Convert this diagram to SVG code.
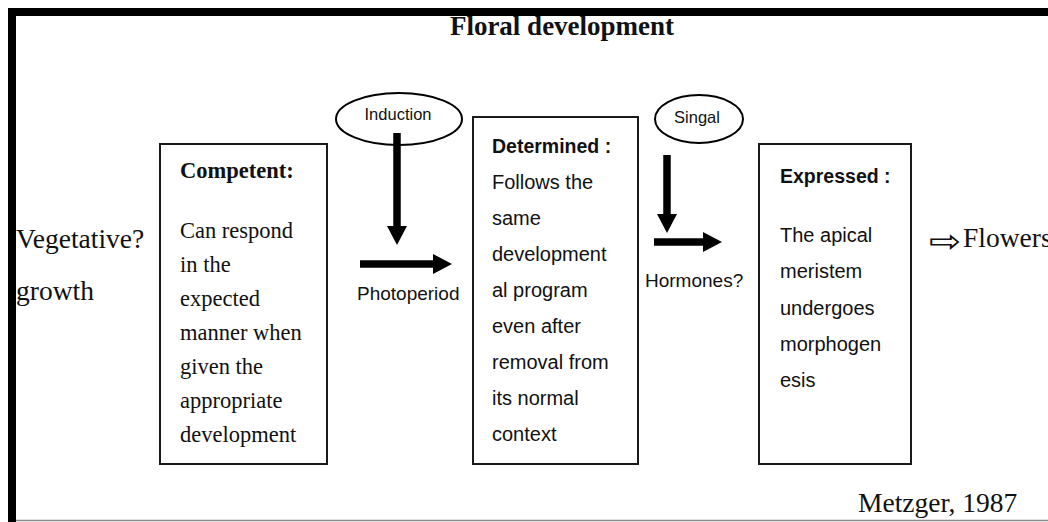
<svg xmlns="http://www.w3.org/2000/svg" width="1048" height="522" viewBox="0 0 1048 522">
  <defs>
    <marker id="head" markerUnits="userSpaceOnUse" markerWidth="20" markerHeight="20" refX="0" refY="10" orient="auto">
      <path d="M0,0 L19,10 L0,20 Z" fill="#000"/>
    </marker>
  </defs>
  <style>
    .box { fill: #fff; stroke: #1a1a1a; stroke-width: 2; }
    .ell { fill: #fff; stroke: #000; stroke-width: 2; }
    .serif { font-family: "Liberation Serif", "Times New Roman", serif; fill: #111; }
    .sans { font-family: "Liberation Sans", Arial, sans-serif; fill: #111; }
    .body { font-size: 22.5px; }
    .sbody { font-size: 20px; }
    .big { font-size: 27.5px; }
    .arrow { stroke: #000; stroke-width: 7.5; fill: none; marker-end: url(#head); }
  </style>
  <rect width="1048" height="522" fill="#fff"/>
  <g id="frame">
    <rect x="8" y="8" width="1040" height="8" fill="#000"/>
    <rect x="8" y="8" width="8" height="514" fill="#000"/>
    <line x1="16" y1="520.5" x2="1048" y2="520.5" stroke="#888" stroke-width="1.5"/>
  </g>
  <g id="title">
    <text class="serif" x="562" y="35" font-size="27" font-weight="bold" text-anchor="middle">Floral development</text>
  </g>
  <g id="vegetative">
    <text class="serif big" x="16" y="248">Vegetative?</text>
    <text class="serif big" x="16" y="300">growth</text>
  </g>
  <g id="competent">
    <rect class="box" x="160" y="144" width="167" height="320"/>
    <text class="serif" x="180" y="178" font-size="22.5" font-weight="bold">Competent:</text>
    <text class="serif body" x="180" y="238">Can respond</text>
    <text class="serif body" x="180" y="272">in the</text>
    <text class="serif body" x="180" y="306">expected</text>
    <text class="serif body" x="180" y="340">manner when</text>
    <text class="serif body" x="180" y="374">given the</text>
    <text class="serif body" x="180" y="408">appropriate</text>
    <text class="serif body" x="180" y="442">development</text>
  </g>
  <g id="induction">
    <ellipse class="ell" cx="399" cy="119" rx="63" ry="26"/>
    <text class="sans" x="398" y="120" font-size="16.5" text-anchor="middle">Induction</text>
  </g>
  <g id="determined">
    <rect class="box" x="473" y="117" width="165" height="347"/>
    <text class="sans" x="492" y="153" font-size="19.5" font-weight="bold">Determined :</text>
    <text class="sans sbody" x="492" y="189">Follows the</text>
    <text class="sans sbody" x="492" y="225">same</text>
    <text class="sans sbody" x="492" y="261">development</text>
    <text class="sans sbody" x="492" y="297">al program</text>
    <text class="sans sbody" x="492" y="333">even after</text>
    <text class="sans sbody" x="492" y="369">removal from</text>
    <text class="sans sbody" x="492" y="405">its  normal</text>
    <text class="sans sbody" x="492" y="441">context</text>
  </g>
  <g id="singal">
    <ellipse class="ell" cx="699" cy="119" rx="44" ry="24"/>
    <text class="sans" x="697" y="123" font-size="16.5" text-anchor="middle">Singal</text>
  </g>
  <g id="expressed">
    <rect class="box" x="759" y="144" width="152" height="320"/>
    <text class="sans" x="780" y="183" font-size="19.5" font-weight="bold">Expressed :</text>
    <text class="sans sbody" x="780" y="242">The apical</text>
    <text class="sans sbody" x="780" y="278">meristem</text>
    <text class="sans sbody" x="780" y="315">undergoes</text>
    <text class="sans sbody" x="780" y="351">morphogen</text>
    <text class="sans sbody" x="780" y="387">esis</text>
  </g>
  <g id="flowers">
    <text transform="translate(929,252) scale(1.2,1)" font-family="DejaVu Sans, sans-serif" font-size="32" fill="#111">⇨</text>
    <text class="serif big" x="963" y="247">Flowers</text>
  </g>
  <g id="connectors">
    <line class="arrow" x1="397" y1="133" x2="397" y2="226"/>
    <line class="arrow" x1="360" y1="264" x2="433" y2="264"/>
    <line class="arrow" x1="667" y1="155" x2="667" y2="214"/>
    <line class="arrow" x1="654" y1="242" x2="703" y2="242"/>
    <text class="sans" x="357" y="300" font-size="19">Photoperiod</text>
    <text class="sans" x="645" y="287" font-size="19">Hormones?</text>
  </g>
  <g id="credit">
    <text class="serif big" x="858" y="512">Metzger, 1987</text>
  </g>
</svg>
